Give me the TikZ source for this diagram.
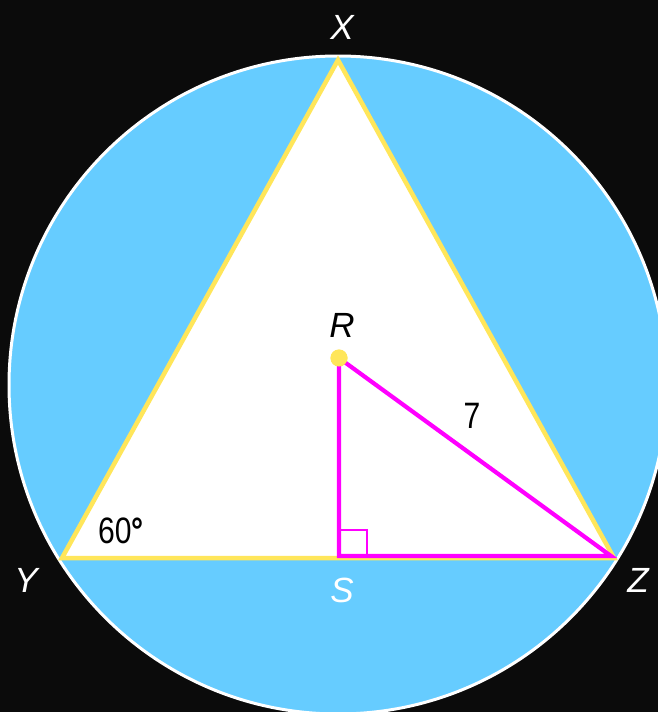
\documentclass[tikz,border=0pt]{standalone}
\usepackage{fontspec}
\setmainfont{Liberation Sans}
\definecolor{night}{RGB}{11,11,11}
\definecolor{sky}{RGB}{102,204,255}
\definecolor{lemon}{RGB}{255,230,90}
\definecolor{pinkline}{RGB}{255,0,255}
\usetikzlibrary{positioning,calc}
\newcommand{\narrowtext}[1]{\scalebox{0.86}[1.05]{#1}}
\tikzset{
  vlabel/.style={text=white,font=\fontsize{35}{37}\selectfont\itshape,inner sep=0pt},
  ilabel/.style={text=black,font=\fontsize{35}{37}\selectfont,inner sep=0pt},
  tri/.style={draw=lemon,line width=4.5pt,line join=miter},
  seg/.style={draw=pinkline,line width=4.2pt},
  dot/.style={circle,fill=lemon,minimum size=17pt,inner sep=0pt},
}
\begin{document}
\begin{tikzpicture}[x=1pt,y=-1pt]
  \fill[night] (0,0) rectangle (658,712);
  \useasboundingbox (0,0) rectangle (658,712);
  \begin{scope}
    \clip (0,0) rectangle (658,712);
    \filldraw[fill=sky,draw=white,line width=3pt] (338,385) circle[radius=329];
  \end{scope}
  % triangle
  \coordinate (X) at (338,60);
  \coordinate (Y) at (62,558);
  \coordinate (Z) at (614,558);
  \coordinate (S) at (339,556);
  \coordinate (Zin) at (611,556);
  \filldraw[fill=white,tri] (X) -- (Y) -- (Z) -- cycle;
  \node[dot] (R) at (339,358) {};
  \draw[seg] (R.center) -- (S) -- (Zin) -- cycle;
  \draw[pinkline,line width=2pt] ($(S)+(0,-26)$) -- ($(S)+(28,-26)$) -- ($(S)+(28,0)$);
  \node[dot] at (R) {};
  % labels
  \node[vlabel] (Xl) at (342,27) {X};
  \node[ilabel,font=\fontsize{35}{37}\selectfont\itshape] (Rl) at (342,325) {R};
  \node[vlabel] (Yl) at (26,580) {Y};
  \node[vlabel] (Sl) at (342,590) {S};
  \node[vlabel] (Zl) at (638,580) {Z};
  \node[ilabel] (side) at (472,416) {\narrowtext{7}};
  \node[ilabel] (ang) at (121,531) {\narrowtext{60{\bfseries°}}};
\end{tikzpicture}
\end{document}
